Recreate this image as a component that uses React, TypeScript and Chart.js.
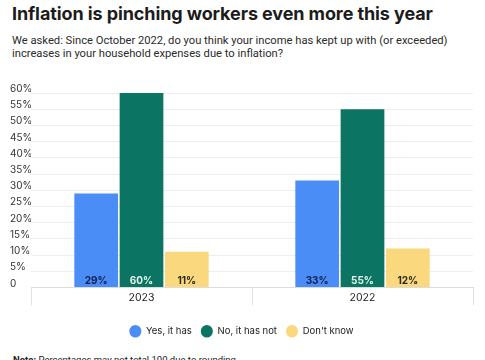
import React, { useEffect, useRef } from "react";
import { Chart, registerables } from "chart.js";

Chart.register(...registerables);

const title = "Inflation is pinching workers even more this year";
const subtitle = [
  "We asked: Since October 2022, do you think your income has kept up with (or exceeded)",
  "increases in your household expenses due to inflation?",
];
const categories = ["2023", "2022"];
const seriesNames = ["Yes, it has", "No, it has not", "Don't know"];
const yesValues = [29, 33];
const noValues = [60, 55];
const dontKnowValues = [11, 12];
const seriesColors = ["#4a8df6", "#0b7463", "#fad87e"];
const labelColors = ["#0f1f4d", "#e8f6ef", "#2a2a1a"];
const yTickValues = [0, 5, 10, 15, 20, 25, 30, 35, 40, 45, 50, 55, 60];
const noteBold = "Note:";
const noteText = " Percentages may not total 100 due to rounding";

const FONT = "Inter, 'Open Sans', sans-serif";

const barLabelPlugin = {
  id: "barLabels",
  afterDatasetsDraw(chart: any) {
    const ctx = chart.ctx;
    ctx.save();
    ctx.font = `700 10px ${FONT}`;
    ctx.textAlign = "center";
    ctx.textBaseline = "middle";
    chart.data.datasets.forEach((ds: any, di: number) => {
      const meta = chart.getDatasetMeta(di);
      meta.data.forEach((bar: any, i: number) => {
        ctx.fillStyle = labelColors[di];
        ctx.fillText(ds.data[i] + "%", bar.x, bar.base - 6);
      });
    });
    ctx.restore();
  },
};

// category separators below the x axis, placed from the x scale itself
const separatorPlugin = {
  id: "separators",
  afterDraw(chart: any) {
    const x = chart.scales.x;
    const ctx = chart.ctx;
    const n = x.ticks.length;
    const pts: number[] = [];
    for (let i = 0; i <= n; i++) {
      if (i === 0) pts.push(x.left);
      else if (i === n) pts.push(x.right);
      else pts.push((x.getPixelForTick(i - 1) + x.getPixelForTick(i)) / 2);
    }
    ctx.save();
    ctx.strokeStyle = "#e2e2e2";
    ctx.lineWidth = 1;
    pts.forEach((p) => {
      const px = Math.round(p) + 0.5;
      ctx.beginPath();
      ctx.moveTo(px, x.top);
      ctx.lineTo(px, x.top + 18);
      ctx.stroke();
    });
    ctx.restore();
  },
};

function ChartView() {
  const ref = useRef<HTMLCanvasElement>(null);
  useEffect(() => {
    if (!ref.current) return;
    const seriesData = [yesValues, noValues, dontKnowValues];
    const chart = new Chart(ref.current, {
      type: "bar",
      data: {
        labels: categories,
        datasets: seriesNames.map((name, i) => ({
          label: name,
          data: seriesData[i],
          backgroundColor: seriesColors[i],
          borderWidth: 0,
          categoryPercentage: 0.615,
          barPercentage: 0.965,
        })),
      },
      options: {
        animation: false,
        responsive: false,
        layout: { padding: { left: 10, right: 12, top: 13, bottom: 4 } },
        plugins: {
          tooltip: { enabled: false },
          legend: {
            position: "bottom",
            labels: {
              usePointStyle: true,
              pointStyle: "circle",
              boxHeight: 9,
              boxWidth: 12,
              pointStyleWidth: 12,
              padding: 9,
              color: "#222",
              font: { family: FONT, size: 9.5 },
            },
          },
        },
        scales: {
          x: {
            afterFit: (scale: any) => {
              scale.height = 30;
            },
            grid: {
              offset: true,
              drawOnChartArea: false,
              drawTicks: false,
            },
            border: { display: true, color: "#dcdcdc" },
            ticks: {
              padding: 4,
              color: "#222",
              font: { family: FONT, size: 10.5 },
            },
          },
          y: {
            min: 0,
            max: 60,
            afterFit: (scale: any) => {
              scale.width = 21;
            },
            afterBuildTicks: (scale: any) => {
              scale.ticks = yTickValues.map((v) => ({ value: v }));
            },
            grid: { color: "#eeeeee", drawTicks: false },
            border: { display: false },
            ticks: {
              crossAlign: "far",
              padding: 0,
              labelOffset: -4,
              color: "#333",
              font: { family: FONT, size: 10 },
              callback: (v: any) => (v === 0 ? "0" : v + "%"),
            },
          },
        },
      },
      plugins: [barLabelPlugin, separatorPlugin],
    });
    return () => chart.destroy();
  }, []);
  return (
    <canvas
      ref={ref}
      width={485}
      height={270}
      style={{ position: "absolute", left: 0, top: 80, width: 485, height: 270 }}
    />
  );
}

export default function App() {
  return (
    <div
      style={{
        position: "fixed",
        left: 0,
        top: 0,
        width: 485,
        height: 360,
        background: "#fff",
        overflow: "hidden",
        fontFamily: FONT,
      }}
    >
      <div
        style={{
          position: "absolute",
          left: 12,
          top: 2,
          fontSize: 18,
          letterSpacing: -0.1,
          lineHeight: "24px",
          fontWeight: 700,
          color: "#1c1c1c",
          whiteSpace: "nowrap",
        }}
      >
        {title}
      </div>
      <div
        style={{
          position: "absolute",
          left: 12,
          top: 34,
          fontFamily: "Roboto, sans-serif",
          fontSize: 11.2,
          lineHeight: "13px",
          color: "#2a2a2a",
          whiteSpace: "nowrap",
        }}
      >
        {subtitle.map((s, i) => (
          <div key={i}>{s}</div>
        ))}
      </div>
      <ChartView />
      <div
        style={{
          position: "absolute",
          left: 13,
          top: 354,
          fontFamily: "Roboto, sans-serif",
          fontSize: 9.5,
          lineHeight: "12px",
          color: "#222",
          whiteSpace: "nowrap",
        }}
      >
        <b>{noteBold}</b>
        {noteText}
      </div>
    </div>
  );
}
